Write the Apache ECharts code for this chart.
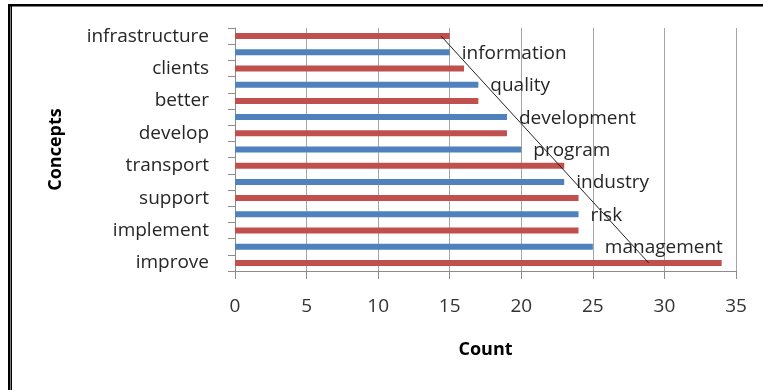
<!DOCTYPE html>
<html>
<head>
<meta charset="utf-8">
<script src="https://cdn.jsdelivr.net/npm/echarts@6/dist/echarts.min.js"></script>
<style>
  html, body { margin: 0; padding: 0; background: #fff; }
  #chart { width: 763px; height: 390px; }
</style>
</head>
<body>
<div id="chart"></div>
<script>
// top to bottom, as in the picture (red / blue alternate)
const categories = ['infrastructure', 'information', 'clients', 'quality', 'better', 'development',
  'develop', 'program', 'transport', 'industry', 'support', 'risk', 'implement', 'management', 'improve'];
const counts = [15, 15, 16, 17, 17, 19, 19, 20, 23, 23, 24, 24, 24, 25, 34];
// drawn line: value at the top bar, value at the bottom bar
const trendEnds = [14.4, 28.9];
const xTicks = [0, 5, 10, 15, 20, 25, 30, 35];

const RED = '#c0504d';
const BLUE = '#4f81bd';
const FONT = 'Open Sans';

let chart = echarts.init(document.getElementById('chart'));

// blue rows get their name written right of the bar
let barData = counts.map((v, i) => {
  let isBlue = i % 2 === 1;
  return {
    value: v,
    itemStyle: { color: isBlue ? BLUE : RED },
    label: { show: isBlue }
  };
});

let option = {
  animation: false,
  backgroundColor: '#fff',
  grid: { left: 235, right: 27, top: 28, bottom: 119 },
  xAxis: {
    type: 'value',
    min: xTicks[0],
    max: xTicks[xTicks.length - 1],
    interval: 5,
    name: 'Count',
    nameLocation: 'middle',
    nameGap: 70,
    nameTextStyle: { fontFamily: FONT, fontSize: 18, fontWeight: 'bold', color: '#000' },
    axisLine: { show: true, lineStyle: { color: '#8c8c8c' } },
    axisTick: { show: true, length: 8, lineStyle: { color: '#8c8c8c' } },
    axisLabel: { fontFamily: FONT, fontSize: 19, color: '#333', margin: 26 },
    splitLine: { show: true, lineStyle: { color: '#a6a6a6', width: 1 } }
  },
  yAxis: {
    type: 'category',
    data: categories,
    inverse: true,
    name: 'Concepts',
    nameLocation: 'middle',
    nameRotate: 90,
    nameGap: 170,
    nameTextStyle: { fontFamily: FONT, fontSize: 18, fontWeight: 'bold', color: '#000' },
    axisLine: { show: true, lineStyle: { color: '#8c8c8c' } },
    axisTick: { show: true, length: 7, interval: 0, lineStyle: { color: '#8c8c8c' } },
    axisLabel: { interval: 1, fontFamily: FONT, fontSize: 19, color: '#262626', margin: 26, padding: [3, 0, 0, 0] },
    splitLine: { show: false }
  },
  series: [
    {
      type: 'bar',
      data: barData,
      barWidth: 6,
      label: {
        position: 'right',
        distance: 12,
        offset: [0, 1],
        formatter: (p) => p.name,
        fontFamily: FONT,
        fontSize: 19,
        color: '#262626'
      }
    },
    {
      type: 'line',
      data: [[trendEnds[0], categories[0]], [trendEnds[1], categories[categories.length - 1]]],
      symbol: 'none',
      lineStyle: { color: '#222', width: 1 },
      z: 5
    }
  ],
  graphic: [
    { type: 'rect', shape: { x: 8, y: 4, width: 2.5, height: 390 }, style: { fill: '#000' } },
    { type: 'rect', shape: { x: 11, y: 6, width: 1, height: 390 }, style: { fill: '#000' } },
    { type: 'rect', shape: { x: 8, y: 4, width: 760, height: 2.5 }, style: { fill: '#000' } }
  ]
};

chart.setOption(option);
</script>
</body>
</html>
